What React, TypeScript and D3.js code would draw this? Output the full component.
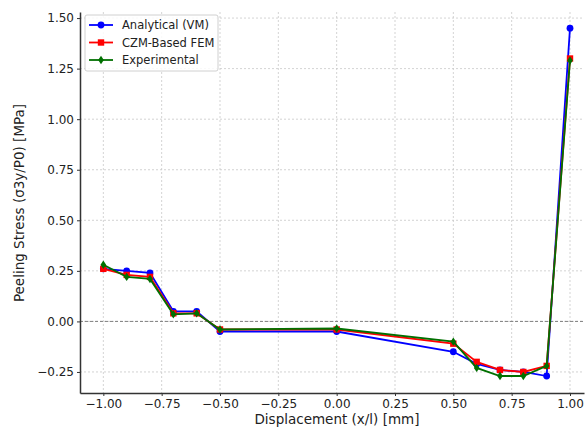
import React, { useEffect, useRef } from 'react';
import * as d3 from 'd3';

const xVals = [-1.0, -0.9, -0.8, -0.7, -0.6, -0.5, 0.0, 0.5, 0.6, 0.7, 0.8, 0.9, 1.0];
const analytical = [0.26, 0.25, 0.24, 0.05, 0.05, -0.05, -0.05, -0.15, -0.21, -0.24, -0.25, -0.27, 1.45];
const czm = [0.26, 0.23, 0.22, 0.04, 0.04, -0.04, -0.04, -0.11, -0.2, -0.24, -0.25, -0.22, 1.3];
const experimental = [0.28, 0.22, 0.21, 0.035, 0.04, -0.04, -0.035, -0.1, -0.23, -0.27, -0.27, -0.22, 1.29];

const xTicks = [-1.0, -0.75, -0.5, -0.25, 0.0, 0.25, 0.5, 0.75, 1.0];
const yTicks = [-0.25, 0.0, 0.25, 0.5, 0.75, 1.0, 1.25, 1.5];

const series = [
    { name: 'Analytical (VM)', values: analytical, color: '#0000ff', marker: 'circle' },
    { name: 'CZM-Based FEM', values: czm, color: '#ff0000', marker: 'square' },
    { name: 'Experimental', values: experimental, color: '#007000', marker: 'diamond' },
];

const fmt = (v: number) => d3.format('.2f')(v).replace('-', '\u2212');

const App = () => {
    const ref = useRef<SVGSVGElement>(null);

    useEffect(() => {
        const svg = d3.select(ref.current);
        svg.selectAll('*').remove();

        const left = 80, right = 584, top = 12, bottom = 393;
        const x = d3.scaleLinear().domain([-1.1, 1.06]).range([left, right]);
        const y = d3.scaleLinear().domain([-0.354, 1.53]).range([bottom, top]);

        const font = 'DejaVu Sans, sans-serif';

        // grid
        const grid = svg.append('g');
        xTicks.forEach(t => {
            grid.append('line')
                .attr('x1', x(t)).attr('x2', x(t)).attr('y1', top).attr('y2', bottom)
                .attr('stroke', '#c8c8c8').attr('stroke-width', 0.8).attr('stroke-dasharray', '2,2');
        });
        yTicks.forEach(t => {
            grid.append('line')
                .attr('x1', left).attr('x2', right).attr('y1', y(t)).attr('y2', y(t))
                .attr('stroke', '#c8c8c8').attr('stroke-width', 0.8).attr('stroke-dasharray', '2,2');
        });

        // zero line
        svg.append('line')
            .attr('x1', left).attr('x2', right).attr('y1', y(0)).attr('y2', y(0))
            .attr('stroke', '#808080').attr('stroke-width', 1).attr('stroke-dasharray', '3,2');

        // axes
        const xAxis = svg.append('g')
            .attr('transform', `translate(0,${bottom})`)
            .call(d3.axisBottom(x).tickValues(xTicks).tickFormat(d => fmt(+d)).tickSize(3).tickSizeOuter(0));
        const yAxis = svg.append('g')
            .attr('transform', `translate(${left},0)`)
            .call(d3.axisLeft(y).tickValues(yTicks).tickFormat(d => fmt(+d)).tickSize(3).tickSizeOuter(0));
        [xAxis, yAxis].forEach(a => {
            a.select('.domain').attr('stroke', '#333').attr('stroke-width', 1.5);
            a.selectAll('.tick line').attr('stroke', '#333');
            a.selectAll('.tick text').attr('font-family', font).attr('font-size', 12).attr('fill', '#222');
        });

        // lines and markers
        const line = d3.line<number>().x((_, i) => x(xVals[i])).y(d => y(d));
        series.forEach(s => {
            const g = svg.append('g');
            g.append('path').datum(s.values).attr('d', line)
                .attr('fill', 'none').attr('stroke', s.color).attr('stroke-width', 1.8);
            s.values.forEach((v, i) => {
                const cx = x(xVals[i]), cy = y(v);
                if (s.marker === 'circle') {
                    g.append('circle').attr('cx', cx).attr('cy', cy).attr('r', 3.4).attr('fill', s.color);
                } else if (s.marker === 'square') {
                    g.append('rect').attr('x', cx - 3.2).attr('y', cy - 3.2).attr('width', 6.4).attr('height', 6.4).attr('fill', s.color);
                } else {
                    g.append('path').attr('d', `M${cx},${cy - 4.2}L${cx + 2.8},${cy}L${cx},${cy + 4.2}L${cx - 2.8},${cy}Z`).attr('fill', s.color);
                }
            });
        });

        // legend
        const lg = svg.append('g');
        lg.append('rect').attr('x', 85).attr('y', 15).attr('width', 133).attr('height', 56).attr('rx', 2)
            .attr('fill', 'white').attr('fill-opacity', 0.85).attr('stroke', '#d0d0d0');
        series.forEach((s, i) => {
            const ly = 25 + i * 17.5;
            lg.append('line').attr('x1', 89).attr('x2', 113).attr('y1', ly).attr('y2', ly)
                .attr('stroke', s.color).attr('stroke-width', 1.8);
            const cx = 101;
            if (s.marker === 'circle') lg.append('circle').attr('cx', cx).attr('cy', ly).attr('r', 3.4).attr('fill', s.color);
            else if (s.marker === 'square') lg.append('rect').attr('x', cx - 3.2).attr('y', ly - 3.2).attr('width', 6.4).attr('height', 6.4).attr('fill', s.color);
            else lg.append('path').attr('d', `M${cx},${ly - 4.2}L${cx + 2.8},${ly}L${cx},${ly + 4.2}L${cx - 2.8},${ly}Z`).attr('fill', s.color);
            lg.append('text').attr('x', 122).attr('y', ly + 4).text(s.name)
                .attr('font-family', font).attr('font-size', 11.5).attr('fill', '#222');
        });

        // axis labels
        svg.append('text').attr('x', 337).attr('y', 424).attr('text-anchor', 'middle')
            .attr('font-family', font).attr('font-size', 13.5).attr('fill', '#222')
            .text('Displacement (x/l) [mm]');
        svg.append('text').attr('transform', `translate(24,203) rotate(-90)`)
            .attr('text-anchor', 'middle')
            .attr('font-family', font).attr('font-size', 13.5).attr('fill', '#222')
            .text('Peeling Stress (σ3y/P0) [MPa]');
    }, []);

    return (
        <svg ref={ref} width={587} height={430}
            style={{ position: 'absolute', left: 0, top: 0, background: 'white' }} />
    );
};

export default App;
